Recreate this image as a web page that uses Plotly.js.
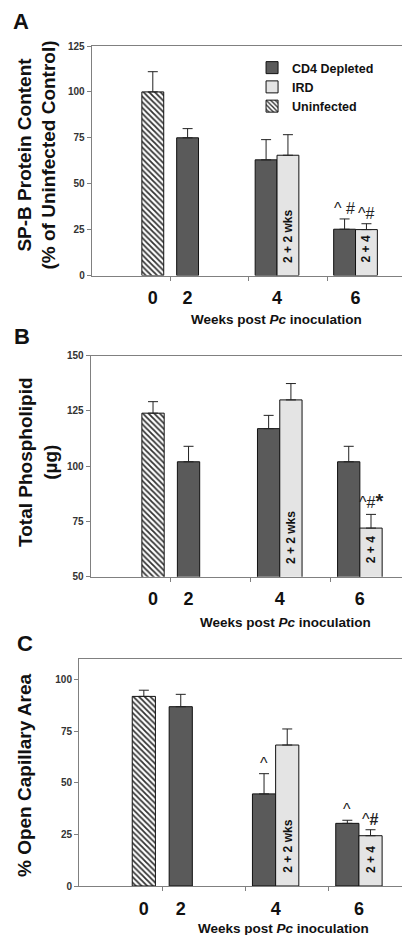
<!DOCTYPE html>
<html><head><meta charset="utf-8">
<script src="https://cdn.plot.ly/plotly-3.0.1.min.js"></script>
<style>html,body{margin:0;padding:0;background:#fff}#chart{width:402px;height:935px}</style>
</head><body><div id="chart"></div>
<script>
// ---- data ----
const categories = [0, 1, 2, 3];
const tickLabels = ['0', '2', '4', '6'];
const tickLabelSlot = [2, 0, 0.5, 0.5];
const seriesNames = ['CD4 Depleted', 'IRD', 'Uninfected'];

// Panel A: SP-B protein content
const cd4A = [null, 75, 63, 25.2];
const cd4ErrA = [0, 5, 11, 5.6];
const irdA = [null, null, 65.5, 25];
const irdErrA = [0, 0, 11.2, 3.2];
const uninfA = [100, null, null, null];
const uninfErrA = [11, 0, 0, 0];
const sigCd4A = ['', '', '', '^ #'];
const sigIrdA = ['', '', '', '^#'];

// Panel B: total phospholipid
const cd4B = [null, 102, 117, 102];
const cd4ErrB = [0, 7, 6, 7];
const irdB = [null, null, 130, 72];
const irdErrB = [0, 0, 7.4, 6.2];
const uninfB = [124, null, null, null];
const uninfErrB = [5.2, 0, 0, 0];
const sigCd4B = ['', '', '', ''];
const sigIrdB = ['', '', '', '^#<b><span style="font-size:20px">*</span></b>'];

// Panel C: open capillary area
const cd4C = [null, 87, 44.7, 30.4];
const cd4ErrC = [0, 6, 9.8, 1.5];
const irdC = [null, null, 68.4, 24.4];
const irdErrC = [0, 0, 7.8, 2.9];
const uninfC = [92, null, null, null];
const uninfErrC = [3, 0, 0, 0];
const sigCd4C = ['', '', '^', '^'];
const sigIrdC = ['', '', '', '^<b>#</b>'];

const irdInsideLabels = ['', '', '2 + 2 wks', '2 + 4'];

// ---- styling ----
const FONT = 'Liberation Sans, Arial, Helvetica, sans-serif';
const BARGAP = 0.165;
const W = 402, H = 935;
const px = v => v / W;
const py = v => 1 - v / H;

const panels = [
  {cd4: cd4A, cd4Err: cd4ErrA, ird: irdA, irdErr: irdErrA, un: uninfA, unErr: uninfErrA,
   sigC: sigCd4A, sigI: sigIrdA, yRange: [0, 125], yTicks: [0, 25, 50, 75, 100, 125],
   left: 91.7, top: 46, bottom: 275.5, xMax: 3.453,
   ytitle: 'SP-B Protein Content<br>(% of Uninfected Control)', ytX: 36.5, ytY: 155,
   xtX: 276, xtY: 319, label: 'A', lx: 21, ly: 21},
  {cd4: cd4B, cd4Err: cd4ErrB, ird: irdB, irdErr: irdErrB, un: uninfB, unErr: uninfErrB,
   sigC: sigCd4B, sigI: sigIrdB, yRange: [50, 150], yTicks: [50, 75, 100, 125, 150],
   left: 90.7, top: 355.7, bottom: 576.7, xMax: 3.387,
   ytitle: 'Total Phospholipid<br>(µg)', ytX: 38, ytY: 462,
   xtX: 285.5, xtY: 622.7, label: 'B', lx: 22, ly: 337},
  {cd4: cd4C, cd4Err: cd4ErrC, ird: irdC, irdErr: irdErrC, un: uninfC, unErr: uninfErrC,
   sigC: sigCd4C, sigI: sigIrdC, yRange: [0, 110], yTicks: [0, 25, 50, 75, 100],
   left: 79, top: 659.3, bottom: 886, xMax: 3.378,
   ytitle: '% Open Capillary Area', ytX: 24, ytY: 775,
   xtX: 283, xtY: 928, label: 'C', lx: 25, ly: 643}
];

function slotCenter(cat, slot) {
  const grp = 1 - BARGAP, w = grp / 3;
  return cat - grp / 2 + w * (slot + 0.5);
}

const traces = [];
const layout = {
  width: W, height: H,
  margin: {l: 0, r: 0, t: 0, b: 0},
  paper_bgcolor: '#fff', plot_bgcolor: '#fff',
  barmode: 'group', bargap: BARGAP, bargroupgap: 0,
  font: {family: FONT, color: '#111'},
  showlegend: true,
  legend: {x: 0.627, y: py(53), xanchor: 'left', yanchor: 'top',
    bgcolor: 'rgba(0,0,0,0)', font: {family: FONT, size: 12.5, weight: 'bold', color: '#111'},
    itemwidth: 30, tracegroupgap: 0},
  annotations: [],
  hovermode: false
};

const errStyle = (arr) => ({type: 'data', array: arr, arrayminus: arr.map(() => 0), symmetric: false,
  color: '#222', thickness: 1, width: 5});

panels.forEach((p, i) => {
  const n = i + 1;
  const xa = n === 1 ? 'x' : 'x' + n;
  const ya = n === 1 ? 'y' : 'y' + n;
  const xl = 'x' + (n + 3);
  const showL = i === 0;
  traces.push({type: 'bar', name: seriesNames[0], x: categories, y: p.cd4, xaxis: xa, yaxis: ya,
    marker: {color: '#5a5a5a', line: {color: '#111', width: 1}},
    error_y: errStyle(p.cd4Err), showlegend: showL, legendgroup: 'cd4'});
  traces.push({type: 'bar', name: seriesNames[1], x: categories, y: p.ird, xaxis: xa, yaxis: ya,
    marker: {color: '#e4e4e4', line: {color: '#111', width: 1}},
    error_y: errStyle(p.irdErr), showlegend: showL, legendgroup: 'ird'});
  traces.push({type: 'bar', name: seriesNames[2], x: categories, y: p.un, xaxis: xa, yaxis: ya,
    marker: {color: '#333', line: {color: '#111', width: 1},
      pattern: {shape: '\\', size: 4, solidity: 0.45, fgcolor: '#333', bgcolor: '#fff', fillmode: 'replace'}},
    error_y: errStyle(p.unErr), showlegend: showL, legendgroup: 'un'});
  // dummy for tick-label overlay axis
  traces.push({type: 'scatter', x: [], y: [], xaxis: xl, yaxis: ya, showlegend: false});

  const dom = [px(p.left), 1];
  layout['xaxis' + (n === 1 ? '' : n)] = {
    domain: dom, anchor: ya, range: [-0.5, p.xMax], showgrid: false, zeroline: false,
    showline: true, linecolor: '#808080', linewidth: 1, mirror: true,
    tickvals: [0.5, 1.5, 2.5], ticktext: ['', '', ''], ticks: 'outside', ticklen: 4,
    tickcolor: '#808080', tickwidth: 1
  };
  layout['xaxis' + (n + 3)] = {
    overlaying: xa, anchor: ya, range: [-0.5, p.xMax], showgrid: false, zeroline: false,
    showline: false, tickvals: categories.map((c, k) => slotCenter(c, tickLabelSlot[k])),
    ticktext: tickLabels, ticks: 'outside', ticklen: 6, tickcolor: 'rgba(0,0,0,0)',
    tickfont: {family: FONT, size: 18, weight: 'bold', color: '#111'}
  };
  layout['yaxis' + (n === 1 ? '' : n)] = {
    domain: [py(p.bottom), py(p.top)], anchor: xa, range: p.yRange, showgrid: false, zeroline: false,
    showline: true, linecolor: '#808080', linewidth: 1,
    tickvals: p.yTicks, ticks: 'outside', ticklen: 4, tickcolor: '#808080',
    tickfont: {family: FONT, size: 10, weight: 'bold', color: '#333'}
  };

  // significance marks
  [[p.cd4, p.cd4Err, p.sigC, 0], [p.ird, p.irdErr, p.sigI, 1]].forEach(([vals, errs, sig, slot]) => {
    vals.forEach((v, k) => {
      if (v == null || !sig[k]) return;
      layout.annotations.push({xref: xa, yref: ya, x: slotCenter(categories[k], slot), y: v + errs[k],
        yanchor: 'bottom', yshift: 0, text: sig[k], showarrow: false,
        font: {family: FONT, size: 16, color: '#222'}});
    });
  });
  // rotated inside labels in IRD bars
  p.ird.forEach((v, k) => {
    if (v == null || !irdInsideLabels[k]) return;
    layout.annotations.push({xref: xa, yref: ya + ' domain', x: slotCenter(categories[k], 1), y: 0,
      yanchor: 'bottom', yshift: 11, textangle: -90, text: irdInsideLabels[k], showarrow: false,
      font: {family: FONT, size: 12, weight: 'bold', color: '#111'}});
  });
  // axis titles
  layout.annotations.push({xref: 'paper', yref: 'paper', x: px(p.ytX), y: py(p.ytY),
    xanchor: 'center', yanchor: 'middle', textangle: -90, text: p.ytitle, showarrow: false,
    font: {family: FONT, size: 19, weight: 'bold', color: '#111'}});
  layout.annotations.push({xref: 'paper', yref: 'paper', x: px(p.xtX), y: py(p.xtY),
    xanchor: 'center', yanchor: 'middle', text: 'Weeks post <i>Pc</i> inoculation', showarrow: false,
    font: {family: FONT, size: 13.5, weight: 'bold', color: '#111'}});
  layout.annotations.push({xref: 'paper', yref: 'paper', x: px(p.lx), y: py(p.ly),
    xanchor: 'center', yanchor: 'middle', text: p.label, showarrow: false,
    font: {family: FONT, size: 22, weight: 'bold', color: '#111'}});
});

Plotly.newPlot('chart', traces, layout, {staticPlot: true, displayModeBar: false});
</script></body></html>
